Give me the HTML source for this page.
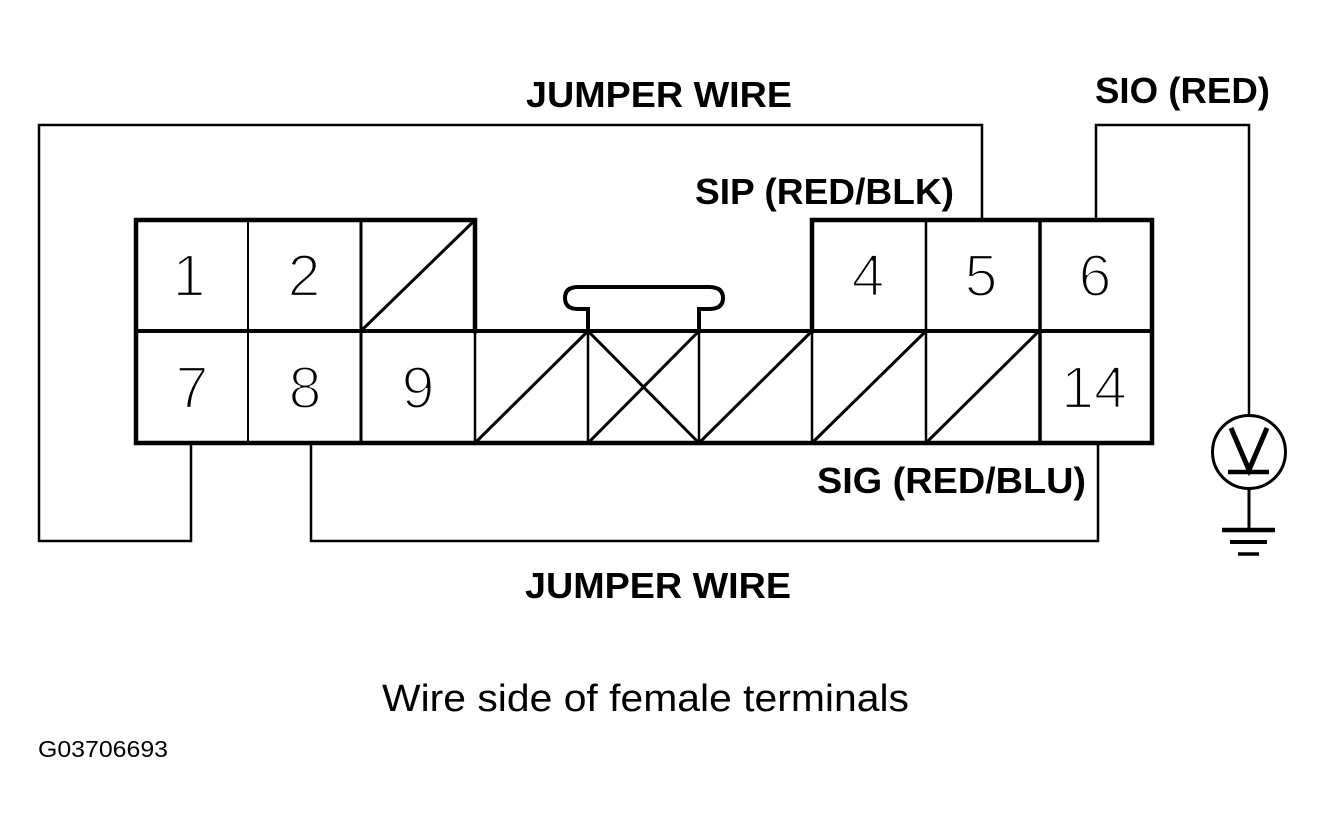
<!DOCTYPE html>
<html><head><meta charset="utf-8"><style>html,body{margin:0;padding:0;background:#fff}svg{display:block}</style></head><body>
<svg width="1324" height="832" viewBox="0 0 1324 832" xmlns="http://www.w3.org/2000/svg">
<rect width="1324" height="832" fill="#fff"/>
<g fill="none" stroke="#000" stroke-linecap="square">
<!-- wires -->
<path d="M982 219V125H39V541H191V444" stroke-width="2.5"/>
<path d="M1096 219V125H1249V415" stroke-width="2.5"/>
<path d="M311 444V541H1098V444" stroke-width="2.5"/>
<!-- connector heavy outline -->
<path d="M136 331V220H475V331M136 331V443H1152V331M812 331V220H1152V331" stroke-width="4.5"/>
<path d="M136 331H1152" stroke-width="4"/>
<!-- cell dividers -->
<path d="M248 220V443" stroke-width="2"/>
<path d="M361 220V443" stroke-width="3"/>
<path d="M475 331V443M588 331V443M699 331V443" stroke-width="2.5"/>
<path d="M812 331V443M926 220V443" stroke-width="2.5"/>
<path d="M1040 220V443" stroke-width="3.5"/>
<!-- diagonals -->
<path d="M363 329L473 222M477 441L586 333M590 441L697 333M590 333L697 441M701 441L810 333M814 441L924 333M928 441L1037 333" stroke-width="3"/>
<!-- latch -->
<path d="M588 331V309H578Q565 309 565 298Q565 287 578 287H709Q723 287 723 298Q723 309 709 309H699V331" stroke-width="4"/>
<!-- meter -->
<circle cx="1249" cy="452" r="36.5" stroke-width="3"/>
<path d="M1231 428L1249 470L1267 428" stroke-width="5" stroke-linecap="butt"/>
<path d="M1228 472H1269" stroke-width="4.5" stroke-linecap="butt"/>
<path d="M1249 489V530" stroke-width="3"/>
<path d="M1222 530H1275" stroke-width="4.5" stroke-linecap="butt"/>
<path d="M1230 542H1267" stroke-width="4" stroke-linecap="butt"/>
<path d="M1238 554H1259" stroke-width="3.5" stroke-linecap="butt"/>
</g>
<g font-family="'Liberation Sans',sans-serif" font-size="59" fill="#000" stroke="#fff" stroke-width="2.2" text-anchor="middle">
<text x="189" y="296">1</text>
<text x="304" y="296">2</text>
<text x="868" y="296">4</text>
<text x="981" y="296">5</text>
<text x="1095" y="296">6</text>
<text x="192" y="408">7</text>
<text x="305" y="408">8</text>
<text x="418" y="408">9</text>
<text x="1094" y="408">14</text>
</g>
<g font-family="'Liberation Sans',sans-serif" font-weight="bold" font-size="36" fill="#000">
<text x="526" y="107" textLength="266" lengthAdjust="spacingAndGlyphs">JUMPER WIRE</text>
<text x="1095" y="103" textLength="175" lengthAdjust="spacingAndGlyphs">SIO (RED)</text>
<text x="695" y="204" textLength="259" lengthAdjust="spacingAndGlyphs">SIP (RED/BLK)</text>
<text x="817" y="493" textLength="269" lengthAdjust="spacingAndGlyphs">SIG (RED/BLU)</text>
<text x="525" y="598" textLength="266" lengthAdjust="spacingAndGlyphs">JUMPER WIRE</text>
</g>
<g font-family="'Liberation Sans',sans-serif" fill="#000">
<text x="382" y="711" font-size="38" textLength="527" lengthAdjust="spacingAndGlyphs">Wire side of female terminals</text>
<text x="38" y="757" font-size="23" textLength="130" lengthAdjust="spacingAndGlyphs">G03706693</text>
</g>
</svg>
</body></html>
